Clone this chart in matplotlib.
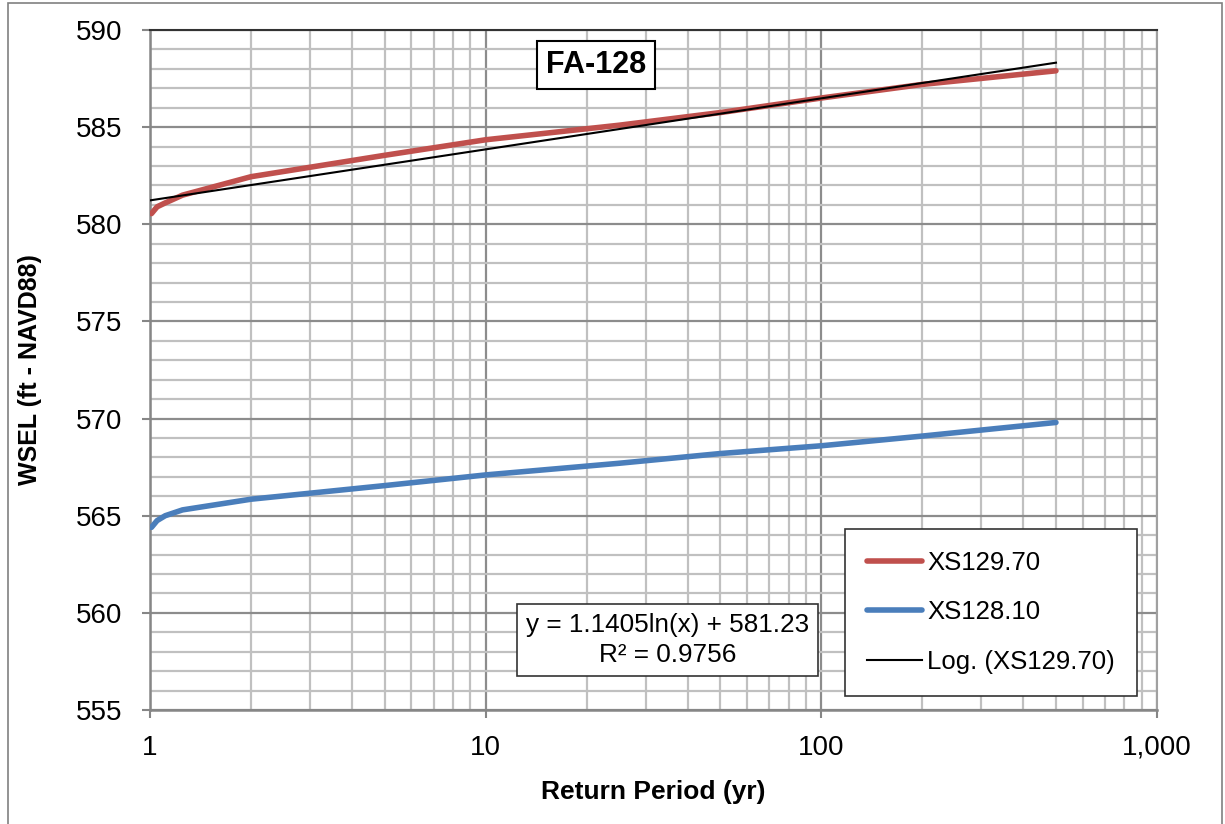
import numpy as np
import matplotlib
matplotlib.use("Agg")
import matplotlib.pyplot as plt
from matplotlib.ticker import FixedLocator, FuncFormatter, NullFormatter
from matplotlib.patches import Rectangle

plt.rcParams['font.family'] = ['Liberation Sans', 'DejaVu Sans']

return_period = [1.01, 1.05, 1.11, 1.25, 2, 5, 10, 25, 50, 100, 200, 500]
xs129_70 = [580.55, 580.9, 581.1, 581.5, 582.45, 583.55, 584.35, 585.1, 585.75, 586.5, 587.2, 587.9]
xs128_10 = [564.4, 564.75, 565.0, 565.3, 565.85, 566.55, 567.1, 567.7, 568.2, 568.6, 569.1, 569.8]
trend_slope = 1.1405
trend_intercept = 581.23
trend_range = [1, 500]
y_ticks = [555, 560, 565, 570, 575, 580, 585, 590]
x_ticks = [1, 10, 100, 1000]
title_text = "FA-128"
eq_text = "y = 1.1405ln(x) + 581.23\nR² = 0.9756"

fig = plt.figure(figsize=(12.25, 8.24), dpi=100)
ax = fig.add_axes([150/1225, 1-710/824, (1157-150)/1225, (710-30)/824])

ax.set_xscale('log')
ax.set_xlim(1, 1000)
ax.set_ylim(555, 590)
ax.yaxis.set_major_locator(FixedLocator(y_ticks))
ax.yaxis.set_minor_locator(FixedLocator(np.arange(555, 591, 1)))
ax.xaxis.set_major_locator(FixedLocator(x_ticks))
minor_x = [m * 10**d for d in range(0, 3) for m in range(2, 10)]
ax.xaxis.set_minor_locator(FixedLocator(minor_x))
ax.xaxis.set_minor_formatter(NullFormatter())
ax.xaxis.set_major_formatter(FuncFormatter(lambda v, p: f"{int(round(v)):,}"))
ax.grid(which='minor', color='#c0c0c0', linewidth=1.6, zorder=0)
ax.grid(which='major', color='#8c8c8c', linewidth=1.6, zorder=0)
ax.set_axisbelow(True)

ax.plot(return_period, xs129_70, color='#C0504D', lw=4.0, solid_capstyle='round',
        solid_joinstyle='round', label='XS129.70', zorder=3)
ax.plot(return_period, xs128_10, color='#4A7EBB', lw=4.0, solid_capstyle='round',
        solid_joinstyle='round', label='XS128.10', zorder=3)
tx = np.geomspace(trend_range[0], trend_range[1], 200)
ax.plot(tx, trend_slope * np.log(tx) + trend_intercept, color='black', lw=1.5,
        label='Log. (XS129.70)', zorder=4)

for s in ['left', 'bottom']:
    ax.spines[s].set_color('#868686')
    ax.spines[s].set_linewidth(1.8)
ax.spines['top'].set_color('#333333')
ax.spines['top'].set_linewidth(1.5)
ax.spines['right'].set_color('#a0a0a0')
ax.spines['right'].set_linewidth(1.5)

ax.tick_params(axis='both', which='major', labelsize=20, length=6, width=1.5,
               color='#868686', direction='out')
ax.tick_params(axis='y', which='major', pad=14)
ax.tick_params(axis='x', which='major', pad=12)
ax.tick_params(axis='both', which='minor', length=0)

ax.set_xlabel('Return Period (yr)', fontsize=19, fontweight='bold', labelpad=14)
ax.set_ylabel('WSEL (ft - NAVD88)', fontsize=18, fontweight='bold', labelpad=24)

ax.text(0.443, 0.949, title_text, transform=ax.transAxes, fontsize=22, fontweight='bold',
        ha='center', va='center', zorder=6,
        bbox=dict(boxstyle='square,pad=0.3', fc='white', ec='black', lw=1.5))

ax.text(0.514, 0.103, eq_text, transform=ax.transAxes, fontsize=18.8, ha='center',
        va='center', linespacing=1.3, zorder=6,
        bbox=dict(boxstyle='square,pad=0.35', fc='white', ec='#333333', lw=1.2))

leg = ax.legend(loc='lower right', bbox_to_anchor=(0.98, 0.0206), fontsize=18.5,
                frameon=True, fancybox=False, edgecolor='#333333', framealpha=1,
                handlelength=2.15, handletextpad=0.2, labelspacing=1.0,
                borderpad=0.85, borderaxespad=0)
leg.get_frame().set_linewidth(1.2)
leg.set_zorder(7)

fig.patches.append(Rectangle((8/1225, -0.01), 1 - 11/1225, 1 - 3/824 + 0.01,
                             transform=fig.transFigure, fill=False,
                             ec='#808080', lw=1.2))

fig.savefig('out.png', dpi=100)
